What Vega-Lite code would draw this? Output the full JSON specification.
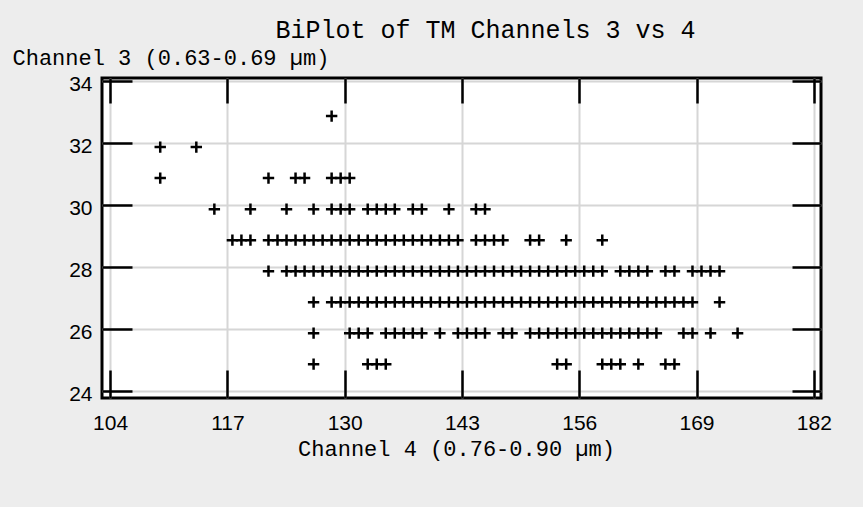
{
 "$schema": "https://vega.github.io/schema/vega-lite/v6.json",
 "width": 719, "height": 320,
 "autosize": {"type": "none"},
 "padding": {"left": 102, "top": 78, "right": 42, "bottom": 109},
 "background": "#ededed",
 "title": {"text": "BiPlot of TM Channels 3 vs 4", "font": "Liberation Mono", "fontSize": 25, "fontWeight": "normal", "color": "black", "anchor": "middle", "dx": 24, "offset": 3},
 "config": {"view": {"fill": "white", "stroke": "black", "strokeWidth": 3}},
 "data": {"values": [
  {"ch4":128,"ch3":33},
  {"ch4":109,"ch3":32},{"ch4":113,"ch3":32},
  {"ch4":109,"ch3":31},{"ch4":121,"ch3":31},{"ch4":124,"ch3":31},{"ch4":125,"ch3":31},{"ch4":128,"ch3":31},{"ch4":129,"ch3":31},{"ch4":130,"ch3":31},
  {"ch4":115,"ch3":30},{"ch4":119,"ch3":30},{"ch4":123,"ch3":30},{"ch4":126,"ch3":30},{"ch4":128,"ch3":30},{"ch4":129,"ch3":30},{"ch4":130,"ch3":30},{"ch4":132,"ch3":30},{"ch4":133,"ch3":30},{"ch4":134,"ch3":30},{"ch4":135,"ch3":30},{"ch4":137,"ch3":30},{"ch4":138,"ch3":30},{"ch4":141,"ch3":30},{"ch4":144,"ch3":30},{"ch4":145,"ch3":30},
  {"ch4":117,"ch3":29},{"ch4":118,"ch3":29},{"ch4":119,"ch3":29},{"ch4":121,"ch3":29},{"ch4":122,"ch3":29},{"ch4":123,"ch3":29},{"ch4":124,"ch3":29},{"ch4":125,"ch3":29},{"ch4":126,"ch3":29},{"ch4":127,"ch3":29},{"ch4":128,"ch3":29},{"ch4":129,"ch3":29},{"ch4":130,"ch3":29},{"ch4":131,"ch3":29},{"ch4":132,"ch3":29},{"ch4":133,"ch3":29},{"ch4":134,"ch3":29},{"ch4":135,"ch3":29},{"ch4":136,"ch3":29},{"ch4":137,"ch3":29},{"ch4":138,"ch3":29},{"ch4":139,"ch3":29},{"ch4":140,"ch3":29},{"ch4":141,"ch3":29},{"ch4":142,"ch3":29},{"ch4":144,"ch3":29},{"ch4":145,"ch3":29},{"ch4":146,"ch3":29},{"ch4":147,"ch3":29},{"ch4":150,"ch3":29},{"ch4":151,"ch3":29},{"ch4":154,"ch3":29},{"ch4":158,"ch3":29},
  {"ch4":121,"ch3":28},{"ch4":123,"ch3":28},{"ch4":124,"ch3":28},{"ch4":125,"ch3":28},{"ch4":126,"ch3":28},{"ch4":127,"ch3":28},{"ch4":128,"ch3":28},{"ch4":129,"ch3":28},{"ch4":130,"ch3":28},{"ch4":131,"ch3":28},{"ch4":132,"ch3":28},{"ch4":133,"ch3":28},{"ch4":134,"ch3":28},{"ch4":135,"ch3":28},{"ch4":136,"ch3":28},{"ch4":137,"ch3":28},{"ch4":138,"ch3":28},{"ch4":139,"ch3":28},{"ch4":140,"ch3":28},{"ch4":141,"ch3":28},{"ch4":142,"ch3":28},{"ch4":143,"ch3":28},{"ch4":144,"ch3":28},{"ch4":145,"ch3":28},{"ch4":146,"ch3":28},{"ch4":147,"ch3":28},{"ch4":148,"ch3":28},{"ch4":149,"ch3":28},{"ch4":150,"ch3":28},{"ch4":151,"ch3":28},{"ch4":152,"ch3":28},{"ch4":153,"ch3":28},{"ch4":154,"ch3":28},{"ch4":155,"ch3":28},{"ch4":156,"ch3":28},{"ch4":157,"ch3":28},{"ch4":158,"ch3":28},{"ch4":160,"ch3":28},{"ch4":161,"ch3":28},{"ch4":162,"ch3":28},{"ch4":163,"ch3":28},{"ch4":165,"ch3":28},{"ch4":166,"ch3":28},{"ch4":168,"ch3":28},{"ch4":169,"ch3":28},{"ch4":170,"ch3":28},{"ch4":171,"ch3":28},
  {"ch4":126,"ch3":27},{"ch4":128,"ch3":27},{"ch4":129,"ch3":27},{"ch4":130,"ch3":27},{"ch4":131,"ch3":27},{"ch4":132,"ch3":27},{"ch4":133,"ch3":27},{"ch4":134,"ch3":27},{"ch4":135,"ch3":27},{"ch4":136,"ch3":27},{"ch4":137,"ch3":27},{"ch4":138,"ch3":27},{"ch4":139,"ch3":27},{"ch4":140,"ch3":27},{"ch4":141,"ch3":27},{"ch4":142,"ch3":27},{"ch4":143,"ch3":27},{"ch4":144,"ch3":27},{"ch4":145,"ch3":27},{"ch4":146,"ch3":27},{"ch4":147,"ch3":27},{"ch4":148,"ch3":27},{"ch4":149,"ch3":27},{"ch4":150,"ch3":27},{"ch4":151,"ch3":27},{"ch4":152,"ch3":27},{"ch4":153,"ch3":27},{"ch4":154,"ch3":27},{"ch4":155,"ch3":27},{"ch4":156,"ch3":27},{"ch4":157,"ch3":27},{"ch4":158,"ch3":27},{"ch4":159,"ch3":27},{"ch4":160,"ch3":27},{"ch4":161,"ch3":27},{"ch4":162,"ch3":27},{"ch4":163,"ch3":27},{"ch4":164,"ch3":27},{"ch4":165,"ch3":27},{"ch4":166,"ch3":27},{"ch4":167,"ch3":27},{"ch4":168,"ch3":27},{"ch4":171,"ch3":27},
  {"ch4":126,"ch3":26},{"ch4":130,"ch3":26},{"ch4":131,"ch3":26},{"ch4":132,"ch3":26},{"ch4":134,"ch3":26},{"ch4":135,"ch3":26},{"ch4":136,"ch3":26},{"ch4":137,"ch3":26},{"ch4":138,"ch3":26},{"ch4":140,"ch3":26},{"ch4":142,"ch3":26},{"ch4":143,"ch3":26},{"ch4":144,"ch3":26},{"ch4":145,"ch3":26},{"ch4":147,"ch3":26},{"ch4":148,"ch3":26},{"ch4":150,"ch3":26},{"ch4":151,"ch3":26},{"ch4":152,"ch3":26},{"ch4":153,"ch3":26},{"ch4":154,"ch3":26},{"ch4":155,"ch3":26},{"ch4":156,"ch3":26},{"ch4":157,"ch3":26},{"ch4":158,"ch3":26},{"ch4":159,"ch3":26},{"ch4":160,"ch3":26},{"ch4":161,"ch3":26},{"ch4":162,"ch3":26},{"ch4":163,"ch3":26},{"ch4":164,"ch3":26},{"ch4":167,"ch3":26},{"ch4":168,"ch3":26},{"ch4":170,"ch3":26},{"ch4":173,"ch3":26},
  {"ch4":126,"ch3":25},{"ch4":132,"ch3":25},{"ch4":133,"ch3":25},{"ch4":134,"ch3":25},{"ch4":153,"ch3":25},{"ch4":154,"ch3":25},{"ch4":158,"ch3":25},{"ch4":159,"ch3":25},{"ch4":160,"ch3":25},{"ch4":162,"ch3":25},{"ch4":165,"ch3":25},{"ch4":166,"ch3":25}
 ]},
 "layer": [
  {
   "mark": {"type": "point", "shape": "M-1,0H1M0,-1V1", "filled": false, "stroke": "black", "strokeWidth": 2.5, "size": 130, "opacity": 1, "xOffset": 5, "yOffset": 4},
   "encoding": {
    "x": {"field": "ch4", "type": "quantitative",
     "scale": {"domain": [103.1, 182.8], "nice": false, "zero": false},
     "axis": {"orient": "bottom", "values": [104, 117, 130, 143, 156, 169, 182], "grid": true, "gridColor": "#d6d6d6", "gridWidth": 2, "gridOpacity": 1, "domain": false, "ticks": true, "tickSize": -28, "tickColor": "black", "tickWidth": 2.5, "labelFont": "Liberation Sans", "labelFontSize": 21, "labelColor": "black", "labelPadding": 42, "labelFlush": false, "labelOverlap": false, "labelBound": false, "title": "Channel 4 (0.76-0.90 µm)", "titleFont": "Liberation Mono", "titleFontSize": 22, "titleFontWeight": "normal", "titleColor": "black", "titleX": 354, "titleY": 57, "titleAlign": "center", "titleBaseline": "alphabetic"}},
    "y": {"field": "ch3", "type": "quantitative",
     "scale": {"domain": [23.78, 34.1], "nice": false, "zero": false},
     "axis": {"orient": "left", "values": [24, 26, 28, 30, 32, 34], "grid": true, "gridColor": "#d6d6d6", "gridWidth": 2, "gridOpacity": 1, "domain": false, "ticks": true, "tickSize": -30, "tickColor": "black", "tickWidth": 2.5, "labelFont": "Liberation Sans", "labelFontSize": 21, "labelColor": "black", "labelPadding": 40, "labelOffset": 3, "labelFlush": false, "labelOverlap": false, "labelBound": false, "title": "Channel 3 (0.63-0.69 µm)", "titleFont": "Liberation Mono", "titleFontSize": 22, "titleFontWeight": "normal", "titleColor": "black", "titleAngle": 0, "titleX": -90, "titleY": -14, "titleAlign": "left", "titleBaseline": "alphabetic"}}
   }
  },
  {
   "mark": {"type": "point", "shape": "M-1,0H1M0,-1V1", "filled": false, "opacity": 0},
   "encoding": {
    "x": {"field": "ch4", "type": "quantitative",
     "axis": {"orient": "top", "values": [104, 117, 130, 143, 156, 169, 182], "grid": false, "domain": false, "labels": false, "ticks": true, "tickSize": -25, "tickColor": "black", "tickWidth": 2.5, "title": null}},
    "y": {"field": "ch3", "type": "quantitative",
     "axis": {"orient": "right", "values": [24, 26, 28, 30, 32, 34], "grid": false, "domain": false, "labels": false, "ticks": true, "tickSize": -29, "tickColor": "black", "tickWidth": 2.5, "title": null}}
   }
  }
 ],
 "resolve": {"axis": {"x": "independent", "y": "independent"}}
}
